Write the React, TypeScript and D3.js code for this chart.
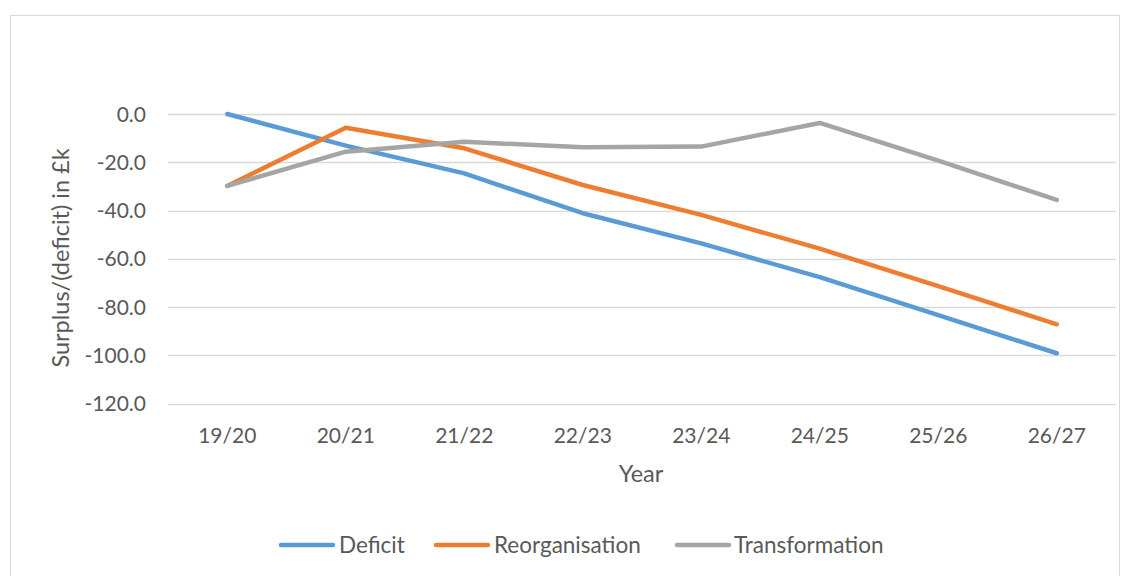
import React from "react";
import * as d3 from "d3";

const years = ["19/20", "20/21", "21/22", "22/23", "23/24", "24/25", "25/26", "26/27"];
const deficit = [0, -13.1, -24.6, -41.1, -53.6, -67.6, -83.3, -99.1];
const reorganisation = [-29.8, -5.7, -14.2, -29.4, -41.8, -55.8, -71.3, -87.1];
const transformation = [-29.8, -15.6, -11.5, -13.8, -13.5, -3.7, -19.3, -35.6];
const yTicks = [0, -20, -40, -60, -80, -100, -120];

const seriesNames = ["Deficit", "Reorganisation", "Transformation"];
const seriesColors = ["#5B9BD5", "#ED7D31", "#A5A5A5"];

const W = 1130;
const H = 576;
const font = "Lato, 'Open Sans', sans-serif";
const textColor = "#595959";

export default function App() {
  const x = d3.scaleBand<string>().domain(years).range([168, 1116]);
  const y = d3.scaleLinear().domain([-120, 0]).range([403.7, 114]);
  const line = d3
    .line<number>()
    .x((_, i) => (x(years[i]) ?? 0) + x.bandwidth() / 2)
    .y((d) => y(d));

  const allSeries = [deficit, reorganisation, transformation];

  // legend layout: line swatch then label
  const legendItems = [
    { x0: 279, tx: 339 },
    { x0: 434, tx: 494 },
    { x0: 675, tx: 734 },
  ];

  return (
    <div style={{ position: "absolute", left: 0, top: 0 }}>
      <svg width={W} height={H} style={{ display: "block", background: "#fff" }}>
        <rect x={10.5} y={15.5} width={1109} height={600} fill="#fff" stroke="#D9D9D9" strokeWidth={1} />

        {yTicks.map((t) => (
          <g key={t}>
            <line x1={168} x2={1116} y1={Math.round(y(t)) + 0.5} y2={Math.round(y(t)) + 0.5} stroke="#D9D9D9" strokeWidth={1.3} />
            <text
              x={146}
              y={y(t)}
              dy="0.36em"
              textAnchor="end"
              fontFamily={font}
              fontSize={21}
              fill={textColor}
            >
              {d3.format(".1f")(t).replace("−", "-")}
            </text>
          </g>
        ))}

        {years.map((yr) => (
          <text
            key={yr}
            x={(x(yr) ?? 0) + x.bandwidth() / 2}
            y={443}
            textAnchor="middle"
            fontFamily={font}
            fontSize={21}
            fill={textColor}
          >
            {yr}
          </text>
        ))}

        <text x={641} y={482} textAnchor="middle" fontFamily={font} fontSize={23.5} fill={textColor}>
          Year
        </text>
        <text
          transform="translate(69,258) rotate(-90)"
          textAnchor="middle"
          fontFamily={font}
          fontSize={23.5}
          fill={textColor}
        >
          Surplus/(deficit) in £k
        </text>

        {allSeries.map((s, i) => (
          <path
            key={seriesNames[i]}
            d={line(s) ?? ""}
            fill="none"
            stroke={seriesColors[i]}
            strokeWidth={4.5}
            strokeLinejoin="round"
            strokeLinecap="round"
          />
        ))}

        {seriesNames.map((n, i) => (
          <g key={n}>
            <line
              x1={legendItems[i].x0 + 2}
              x2={legendItems[i].x0 + 54}
              y1={545}
              y2={545}
              stroke={seriesColors[i]}
              strokeWidth={4.5}
              strokeLinecap="round"
            />
            <text x={legendItems[i].tx} y={545} dy="0.36em" fontFamily={font} fontSize={22.5} fill={textColor}>
              {n}
            </text>
          </g>
        ))}
      </svg>
    </div>
  );
}
